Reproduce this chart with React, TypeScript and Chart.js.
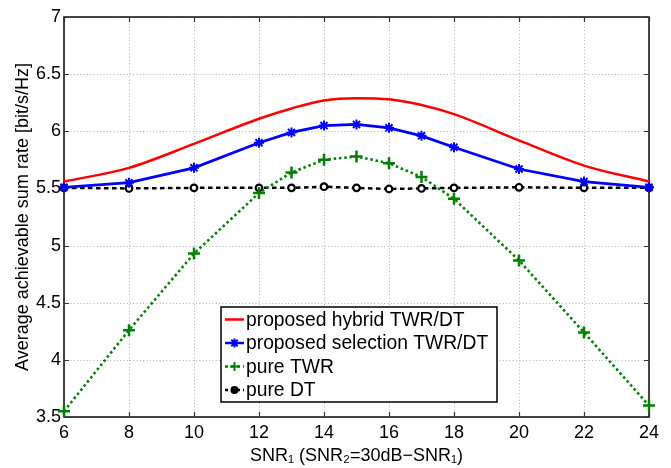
import React, { useEffect, useRef } from "react";
import { Chart, registerables } from "chart.js";

Chart.register(...registerables);

const snr = [6, 8, 10, 12, 13, 14, 15, 16, 17, 18, 20, 22, 24];
const hybrid = [5.56, 5.68, 5.89, 6.11, 6.2, 6.27, 6.29, 6.28, 6.23, 6.15, 5.92, 5.7, 5.56];
const selection = [5.51, 5.55, 5.68, 5.9, 5.99, 6.05, 6.06, 6.03, 5.96, 5.86, 5.67, 5.56, 5.51];
const pureTWR = [3.55, 4.26, 4.93, 5.46, 5.64, 5.75, 5.78, 5.72, 5.6, 5.41, 4.87, 4.24, 3.6];
const pureDT = [5.505, 5.5, 5.505, 5.505, 5.505, 5.515, 5.505, 5.495, 5.5, 5.505, 5.51, 5.505, 5.505];

const xTicks = [6, 8, 10, 12, 14, 16, 18, 20, 22, 24];
const yTicks = [3.5, 4, 4.5, 5, 5.5, 6, 6.5, 7];

const seriesLabels = [
  "proposed hybrid TWR/DT",
  "proposed selection TWR/DT",
  "pure TWR",
  "pure DT",
];
const xTitle = "SNR\u2081 (SNR\u2082=30dB\u2212SNR\u2081)";
const yTitle = "Average achievable sum rate [bit/s/Hz]";

const FONT = "'Liberation Sans', Arial, Helvetica, sans-serif";
const RED = "#ff0000";
const BLUE = "#0000ff";
const GREEN = "#008000";
const BLACK = "#000000";

function toPts(ys: number[]) {
  return snr.map((x, i) => ({ x, y: ys[i] }));
}

function drawMarker(ctx: CanvasRenderingContext2D, style: string, x: number, y: number, r: number, color: string, lw: number) {
  ctx.save();
  ctx.strokeStyle = color;
  ctx.fillStyle = color;
  ctx.lineWidth = lw;
  ctx.setLineDash([]);
  ctx.beginPath();
  if (style === "star") {
    ctx.moveTo(x - r, y); ctx.lineTo(x + r, y);
    ctx.moveTo(x, y - r); ctx.lineTo(x, y + r);
    const d = r * 0.7071;
    ctx.moveTo(x - d, y - d); ctx.lineTo(x + d, y + d);
    ctx.moveTo(x - d, y + d); ctx.lineTo(x + d, y - d);
    ctx.stroke();
  } else if (style === "cross") {
    ctx.moveTo(x - r, y); ctx.lineTo(x + r, y);
    ctx.moveTo(x, y - r); ctx.lineTo(x, y + r);
    ctx.stroke();
  } else if (style === "circle") {
    ctx.arc(x, y, r, 0, Math.PI * 2);
    ctx.fill();
    ctx.stroke();
  }
  ctx.restore();
}

const frameStyle = [
  { color: RED, dashed: false, width: 2.5, point: "" },
  { color: BLUE, dashed: false, width: 2.5, point: "star" },
  { color: GREEN, dashed: true, width: 2.5, point: "cross" },
  { color: BLACK, dashed: true, width: 2.5, point: "circle" },
];

const boxPlugin = {
  id: "matlabBox",
  beforeDatasetsDraw(chart: any) {
    const ctx = chart.ctx as CanvasRenderingContext2D;
    const { left, right, top, bottom } = chart.chartArea;
    const xs = chart.scales.x;
    const ys = chart.scales.y;
    ctx.save();
    // dotted grid
    ctx.strokeStyle = "#b0b0b0";
    ctx.lineWidth = 1;
    ctx.setLineDash([1, 2.3]);
    ctx.beginPath();
    xTicks.forEach((v) => {
      const px = Math.round(xs.getPixelForValue(v)) + 0.5;
      ctx.moveTo(px, top);
      ctx.lineTo(px, bottom);
    });
    yTicks.forEach((v) => {
      const py = Math.round(ys.getPixelForValue(v)) + 0.5;
      ctx.moveTo(left, py);
      ctx.lineTo(right, py);
    });
    ctx.stroke();
    // box
    ctx.setLineDash([]);
    ctx.strokeStyle = "#1a1a1a";
    ctx.lineWidth = 1.6;
    ctx.strokeRect(left, top, right - left, bottom - top);
    // inward ticks
    ctx.lineWidth = 1.2;
    ctx.strokeStyle = "#333";
    const tl = 5;
    ctx.beginPath();
    xTicks.forEach((v) => {
      const px = Math.round(xs.getPixelForValue(v)) + 0.5;
      ctx.moveTo(px, bottom); ctx.lineTo(px, bottom - tl);
      ctx.moveTo(px, top); ctx.lineTo(px, top + tl);
    });
    yTicks.forEach((v) => {
      const py = Math.round(ys.getPixelForValue(v)) + 0.5;
      ctx.moveTo(left, py); ctx.lineTo(left + tl, py);
      ctx.moveTo(right, py); ctx.lineTo(right - tl, py);
    });
    ctx.stroke();
    ctx.restore();
  },
  afterDraw(chart: any) {
    const ctx = chart.ctx as CanvasRenderingContext2D;
    const bx = 221, by = 307, bw = 276, bh = 95;
    ctx.save();
    ctx.fillStyle = "#fff";
    ctx.fillRect(bx, by, bw, bh);
    ctx.strokeStyle = "#000";
    ctx.lineWidth = 1.5;
    ctx.setLineDash([]);
    ctx.strokeRect(bx, by, bw, bh);
    const rowH = 23.5;
    const y0 = 319.5;
    ctx.font = `19.3px ${FONT}`;
    ctx.textBaseline = "middle";
    ctx.textAlign = "left";
    chart.data.datasets.forEach((ds: any, i: number) => {
      const st = frameStyle[i];
      const cy = y0 + i * rowH;
      ctx.save();
      ctx.strokeStyle = st.color;
      ctx.lineWidth = st.width;
      ctx.setLineDash(st.dashed ? [3, 3] : []);
      ctx.beginPath();
      ctx.moveTo(225, cy);
      ctx.lineTo(244, cy);
      ctx.stroke();
      ctx.restore();
      if (st.point) {
        drawMarker(ctx, st.point, 234.5, cy, st.point === "circle" ? 3 : 4.5, st.color, 2);
      }
      ctx.fillStyle = "#000";
      ctx.fillText(ds.label, 246, cy + 1);
    });
    ctx.restore();
  },
};

export default function App() {
  const ref = useRef<HTMLCanvasElement | null>(null);
  useEffect(() => {
    if (!ref.current) return;
    const tickFont = { family: FONT, size: 18 };
    const chart = new Chart(ref.current, {
      type: "line",
      data: {
        datasets: [
          {
            label: seriesLabels[0],
            data: toPts(hybrid),
            borderColor: RED,
            backgroundColor: RED,
            borderWidth: 2.5,
            pointRadius: 0,
            cubicInterpolationMode: "monotone",
            clip: false as any,
          },
          {
            label: seriesLabels[1],
            data: toPts(selection),
            borderColor: BLUE,
            backgroundColor: BLUE,
            borderWidth: 2.8,
            pointStyle: "star",
            pointRadius: 5,
            pointBorderWidth: 2,
            pointBorderColor: BLUE,
            clip: false as any,
          },
          {
            label: seriesLabels[2],
            data: toPts(pureTWR),
            borderColor: GREEN,
            backgroundColor: GREEN,
            borderWidth: 2.6,
            borderDash: [2.5, 2.8],
            pointStyle: "cross",
            pointRadius: 6,
            pointBorderWidth: 2.5,
            pointBorderColor: GREEN,
            clip: false as any,
          },
          {
            label: seriesLabels[3],
            data: toPts(pureDT),
            borderColor: BLACK,
            backgroundColor: BLACK,
            borderWidth: 2.5,
            borderDash: [4.5, 3.5],
            pointStyle: "circle",
            pointRadius: 3.3,
            pointBorderWidth: 2.2,
            pointBorderColor: BLACK,
            pointBackgroundColor: "#ffffff",
            clip: false as any,
          },
        ],
      },
      options: {
        animation: false,
        responsive: false,
        devicePixelRatio: 1,
        layout: { padding: { top: 17, right: 22, left: 0, bottom: 0 } },
        plugins: {
          legend: { display: false },
          tooltip: { enabled: false },
        },
        scales: {
          x: {
            type: "linear",
            min: 6,
            max: 24,
            afterBuildTicks: (s: any) => {
              s.ticks = xTicks.map((v) => ({ value: v }));
            },
            afterFit: (s: any) => {
              s.height = 51;
            },
            grid: { display: false, drawTicks: false },
            border: { display: false },
            ticks: {
              font: tickFont,
              color: "#000",
              padding: 5,
              maxRotation: 0,
              autoSkip: false,
              callback: (v: any) => String(v),
            },
            title: {
              display: true,
              text: xTitle,
              font: { family: FONT, size: 18, lineHeight: 1.2 },
              color: "#000",
              padding: { top: 0, bottom: 1 },
            },
          },
          y: {
            type: "linear",
            min: 3.5,
            max: 7,
            afterBuildTicks: (s: any) => {
              s.ticks = yTicks.map((v) => ({ value: v }));
            },
            afterFit: (s: any) => {
              s.width = 64;
            },
            grid: { display: false, drawTicks: false },
            border: { display: false },
            ticks: {
              font: tickFont,
              color: "#000",
              padding: 3,
              autoSkip: false,
              callback: (v: any) => String(v),
            },
            title: {
              display: true,
              text: yTitle,
              font: { family: FONT, size: 18, lineHeight: 1.2 },
              color: "#000",
              padding: { top: 12, bottom: 0 },
            },
          },
        },
      },
      plugins: [boxPlugin],
    } as any);
    return () => chart.destroy();
  }, []);
  return (
    <div style={{ position: "fixed", left: 0, top: 0, width: 671, height: 468, background: "#fff" }}>
      <canvas ref={ref} width={671} height={468} style={{ width: 671, height: 468, display: "block" }} />
    </div>
  );
}
